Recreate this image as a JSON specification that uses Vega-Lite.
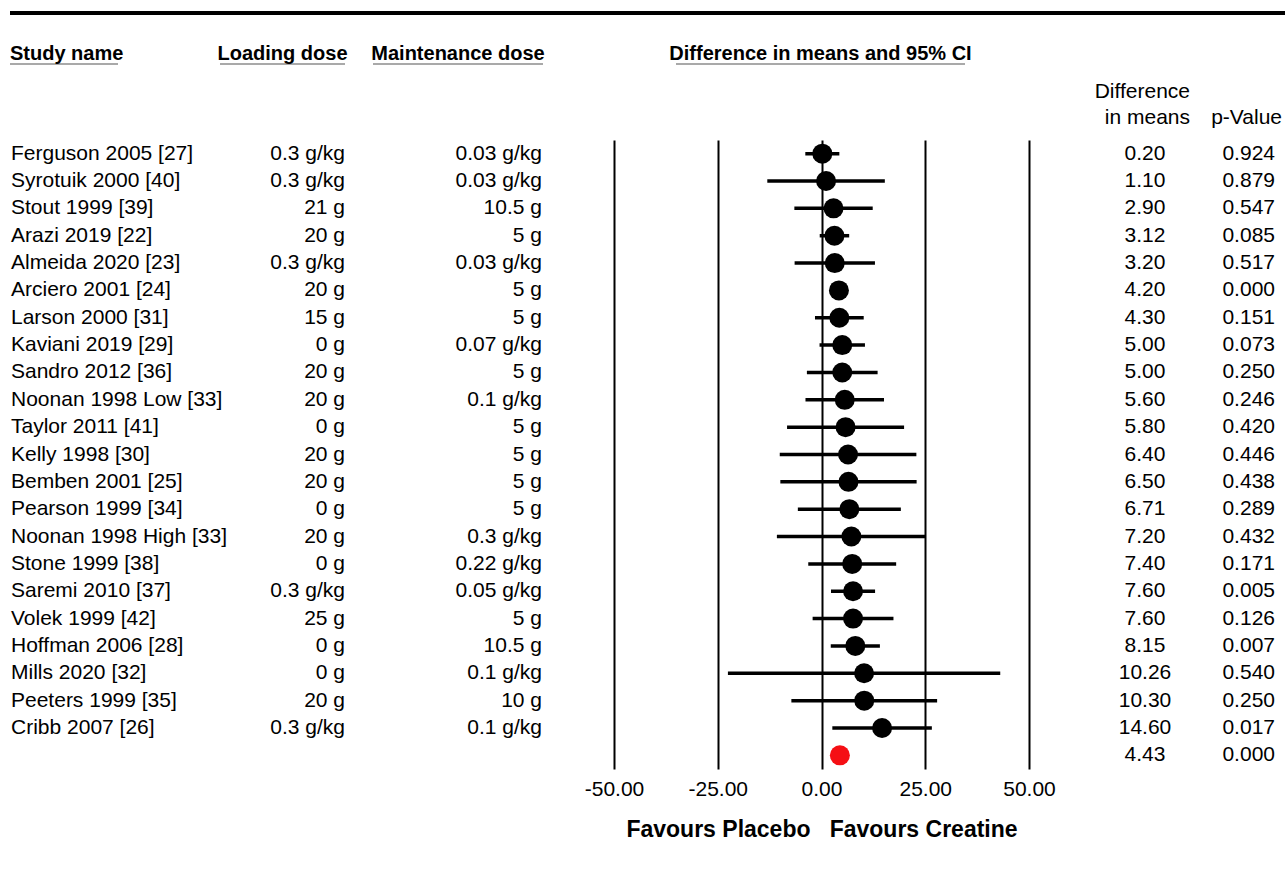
{
  "$schema": "https://vega.github.io/schema/vega-lite/v6.json",
  "background": "white",
  "padding": {"left": 0, "top": 11, "right": 0, "bottom": 0},
  "config": {
    "view": {"stroke": null},
    "text": {"font": "Liberation Sans", "fontSize": 21, "color": "black"},
    "title": {"font": "Liberation Sans", "fontSize": 20, "fontWeight": "bold", "color": "black"},
    "axis": {"labelFont": "Liberation Sans", "titleFont": "Liberation Sans"}
  },
  "datasets": {
    "studies": [
      {"study": "Ferguson 2005 [27]", "loading": "0.3 g/kg", "maint": "0.03 g/kg", "diff": 0.20, "lower": -3.90, "upper": 4.30, "p": 0.924, "type": "study"},
      {"study": "Syrotuik 2000 [40]", "loading": "0.3 g/kg", "maint": "0.03 g/kg", "diff": 1.10, "lower": -13.06, "upper": 15.26, "p": 0.879, "type": "study"},
      {"study": "Stout 1999 [39]", "loading": "21 g", "maint": "10.5 g", "diff": 2.90, "lower": -6.54, "upper": 12.34, "p": 0.547, "type": "study"},
      {"study": "Arazi 2019 [22]", "loading": "20 g", "maint": "5 g", "diff": 3.12, "lower": -0.43, "upper": 6.67, "p": 0.085, "type": "study"},
      {"study": "Almeida 2020 [23]", "loading": "0.3 g/kg", "maint": "0.03 g/kg", "diff": 3.20, "lower": -6.48, "upper": 12.88, "p": 0.517, "type": "study"},
      {"study": "Arciero 2001 [24]", "loading": "20 g", "maint": "5 g", "diff": 4.20, "lower": 2.70, "upper": 5.70, "p": 0.000, "type": "study"},
      {"study": "Larson 2000 [31]", "loading": "15 g", "maint": "5 g", "diff": 4.30, "lower": -1.57, "upper": 10.17, "p": 0.151, "type": "study"},
      {"study": "Kaviani 2019 [29]", "loading": "0 g", "maint": "0.07 g/kg", "diff": 5.00, "lower": -0.47, "upper": 10.47, "p": 0.073, "type": "study"},
      {"study": "Sandro 2012 [36]", "loading": "20 g", "maint": "5 g", "diff": 5.00, "lower": -3.52, "upper": 13.52, "p": 0.250, "type": "study"},
      {"study": "Noonan 1998 Low [33]", "loading": "20 g", "maint": "0.1 g/kg", "diff": 5.60, "lower": -3.86, "upper": 15.06, "p": 0.246, "type": "study"},
      {"study": "Taylor 2011 [41]", "loading": "0 g", "maint": "5 g", "diff": 5.80, "lower": -8.30, "upper": 19.90, "p": 0.420, "type": "study"},
      {"study": "Kelly 1998 [30]", "loading": "20 g", "maint": "5 g", "diff": 6.40, "lower": -10.06, "upper": 22.86, "p": 0.446, "type": "study"},
      {"study": "Bemben 2001 [25]", "loading": "20 g", "maint": "5 g", "diff": 6.50, "lower": -9.92, "upper": 22.92, "p": 0.438, "type": "study"},
      {"study": "Pearson 1999 [34]", "loading": "0 g", "maint": "5 g", "diff": 6.71, "lower": -5.70, "upper": 19.12, "p": 0.289, "type": "study"},
      {"study": "Noonan 1998 High [33]", "loading": "20 g", "maint": "0.3 g/kg", "diff": 7.20, "lower": -10.75, "upper": 25.15, "p": 0.432, "type": "study"},
      {"study": "Stone 1999 [38]", "loading": "0 g", "maint": "0.22 g/kg", "diff": 7.40, "lower": -3.19, "upper": 17.99, "p": 0.171, "type": "study"},
      {"study": "Saremi 2010 [37]", "loading": "0.3 g/kg", "maint": "0.05 g/kg", "diff": 7.60, "lower": 2.29, "upper": 12.91, "p": 0.005, "type": "study"},
      {"study": "Volek 1999 [42]", "loading": "25 g", "maint": "5 g", "diff": 7.60, "lower": -2.14, "upper": 17.34, "p": 0.126, "type": "study"},
      {"study": "Hoffman 2006 [28]", "loading": "0 g", "maint": "10.5 g", "diff": 8.15, "lower": 2.23, "upper": 14.07, "p": 0.007, "type": "study"},
      {"study": "Mills 2020 [32]", "loading": "0 g", "maint": "0.1 g/kg", "diff": 10.26, "lower": -22.55, "upper": 43.07, "p": 0.540, "type": "study"},
      {"study": "Peeters 1999 [35]", "loading": "20 g", "maint": "10 g", "diff": 10.30, "lower": -7.26, "upper": 27.86, "p": 0.250, "type": "study"},
      {"study": "Cribb  2007 [26]", "loading": "0.3 g/kg", "maint": "0.1 g/kg", "diff": 14.60, "lower": 2.61, "upper": 26.59, "p": 0.017, "type": "study"},
      {"study": "Overall", "loading": "", "maint": "", "diff": 4.43, "lower": 2.90, "upper": 5.96, "p": 0.000, "type": "summary"}
    ]
  },
  "spacing": 29,
  "vconcat": [
    {
      "spacing": 0,
      "bounds": "flush",
      "hconcat": [
        {"width": 10, "height": 4, "data": {"values": []}, "mark": "text", "encoding": {"text": {"value": ""}}},
        {"width": 1275, "height": 4, "data": {"values": []}, "mark": "text", "encoding": {"text": {"value": ""}}, "view": {"fill": "black"}}
      ]
    },
    {
      "spacing": 12,
      "vconcat": [
        {
          "spacing": 0,
          "bounds": "flush",
          "hconcat": [
            {"width": 10, "height": 2, "data": {"values": []}, "mark": "text", "encoding": {"text": {"value": ""}}},
            {"width": 108, "height": 2, "data": {"values": []}, "mark": "text", "encoding": {"text": {"value": ""}}, "view": {"fill": "#a9a9a9"},
             "title": {"text": "Study name", "anchor": "start", "baseline": "alphabetic", "offset": -17}},
            {"width": 102, "height": 2, "data": {"values": []}, "mark": "text", "encoding": {"text": {"value": ""}}},
            {"width": 125, "height": 2, "data": {"values": []}, "mark": "text", "encoding": {"text": {"value": ""}}, "view": {"fill": "#a9a9a9"},
             "title": {"text": "Loading dose", "anchor": "middle", "baseline": "alphabetic", "offset": -17}},
            {"width": 28, "height": 2, "data": {"values": []}, "mark": "text", "encoding": {"text": {"value": ""}}},
            {"width": 170, "height": 2, "data": {"values": []}, "mark": "text", "encoding": {"text": {"value": ""}}, "view": {"fill": "#a9a9a9"},
             "title": {"text": "Maintenance dose", "anchor": "middle", "baseline": "alphabetic", "offset": -17}},
            {"width": 133, "height": 2, "data": {"values": []}, "mark": "text", "encoding": {"text": {"value": ""}}},
            {"width": 289, "height": 2, "data": {"values": []}, "mark": "text", "encoding": {"text": {"value": ""}}, "view": {"fill": "#a9a9a9"},
             "title": {"text": "Difference in means and 95% CI", "anchor": "middle", "baseline": "alphabetic", "offset": -17}},
            {"width": 125, "height": 2, "data": {"values": []}, "mark": "text", "encoding": {"text": {"value": ""}}},
            {"width": 100, "height": 2, "data": {"values": []}, "mark": "text", "encoding": {"text": {"value": ""}},
             "title": {"text": ["Difference", "in means"], "orient": "bottom", "anchor": "end", "align": "right", "baseline": "alphabetic", "offset": 33, "fontSize": 21, "fontWeight": "normal", "lineHeight": 26}},
            {"width": 92, "height": 2, "data": {"values": []}, "mark": "text", "encoding": {"text": {"value": ""}},
             "title": {"text": "p-Value", "orient": "bottom", "anchor": "end", "align": "right", "baseline": "alphabetic", "offset": 59, "fontSize": 21, "fontWeight": "normal"}}
          ]
        },
        {
          "spacing": 0,
          "bounds": "flush",
          "data": {"name": "studies"},
          "hconcat": [
            {"width": 22, "height": 629,
             "mark": {"type": "text", "align": "left", "baseline": "middle"},
             "encoding": {
               "y": {"field": "study", "type": "nominal", "sort": null, "axis": null, "scale": {"type": "point", "padding": 0.5}},
               "text": {"condition": {"test": "datum.type === 'summary'", "value": ""}, "field": "study"}
             }},
            {"width": 323, "height": 629,
             "mark": {"type": "text", "align": "right", "baseline": "middle", "x": "width"},
             "encoding": {
               "y": {"field": "study", "type": "nominal", "sort": null, "axis": null, "scale": {"type": "point", "padding": 0.5}},
               "text": {"field": "loading"}
             }},
            {"width": 197, "height": 629,
             "mark": {"type": "text", "align": "right", "baseline": "middle", "x": "width"},
             "encoding": {
               "y": {"field": "study", "type": "nominal", "sort": null, "axis": null, "scale": {"type": "point", "padding": 0.5}},
               "text": {"field": "maint"}
             }},
            {"width": 72, "height": 629, "data": {"values": []}, "mark": "text", "encoding": {"text": {"value": ""}}},
            {"width": 415, "height": 629,
             "encoding": {
               "y": {"field": "study", "type": "nominal", "sort": null, "axis": null, "scale": {"type": "point", "padding": 0.5}}
             },
             "layer": [
               {"mark": {"type": "rule", "strokeWidth": 3.5, "color": "black"},
                "encoding": {
                  "x": {"field": "lower", "type": "quantitative", "title": "Favours Placebo\u00a0\u00a0\u00a0Favours Creatine",
                        "scale": {"domain": [-50, 50], "nice": false, "zero": false},
                        "axis": {"values": [-50, -25, 0, 25, 50], "labelExpr": "replace(format(datum.value, '.2f'), '\u2212', '-')", "grid": true, "gridColor": "black", "gridWidth": 2, "gridOpacity": 1,
                                 "domain": false, "ticks": false, "labelFontSize": 21, "labelColor": "black", "labelPadding": 9,
                                 "labelFlush": false, "labelOverlap": false, "titleFontSize": 23, "titleFontWeight": "bold", "titleColor": "black", "titlePadding": 19}},
                  "x2": {"field": "upper"}
                }},
               {"mark": {"type": "circle", "size": 400, "opacity": 1},
                "encoding": {
                  "x": {"field": "diff", "type": "quantitative", "title": "Favours Placebo\u00a0\u00a0\u00a0Favours Creatine"},
                  "color": {"field": "type", "type": "nominal", "scale": {"domain": ["study", "summary"], "range": ["black", "#f50f14"]}, "legend": null}
                }}
             ]},
            {"width": 232, "height": 629,
             "mark": {"type": "text", "align": "center", "baseline": "middle"},
             "encoding": {
               "y": {"field": "study", "type": "nominal", "sort": null, "axis": null, "scale": {"type": "point", "padding": 0.5}},
               "text": {"field": "diff", "type": "quantitative", "format": ".2f"}
             }},
            {"width": 14, "height": 629,
             "mark": {"type": "text", "align": "right", "baseline": "middle", "x": "width"},
             "encoding": {
               "y": {"field": "study", "type": "nominal", "sort": null, "axis": null, "scale": {"type": "point", "padding": 0.5}},
               "text": {"field": "p", "type": "quantitative", "format": ".3f"}
             }}
          ]
        }
      ]
    }
  ]
}
